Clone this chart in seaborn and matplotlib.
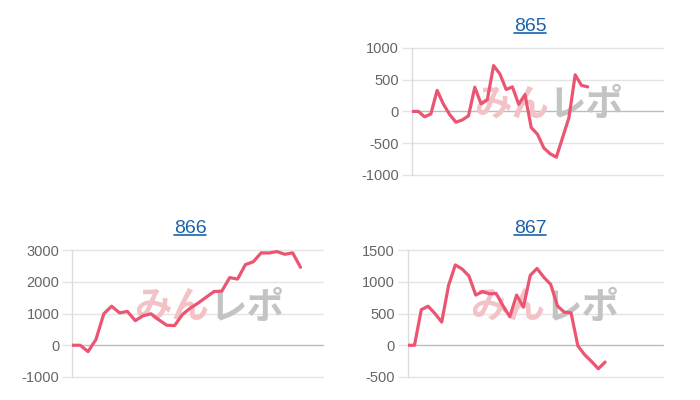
import numpy as np
import pandas as pd
import matplotlib
matplotlib.use("Agg")
import matplotlib.pyplot as plt
import seaborn as sns
from matplotlib.lines import Line2D

# Slot graph data (difference per game)
diff_865 = [0, 0, -85, -40, 330, 115, -50, -170, -135, -70, 380, 120, 185, 720, 590,
            345, 385, 110, 265, -255, -360, -575, -665, -720, -410, -100, 575, 410, 385]
diff_866 = [0, 0, -200, 180, 990, 1230, 1020, 1065, 775, 930, 990, 800, 630, 620, 970,
            1170, 1330, 1510, 1690, 1705, 2130, 2085, 2540, 2630, 2910, 2905, 2950, 2865, 2910, 2455]
diff_867 = [0, 0, 560, 615, 500, 365, 940, 1265, 1200, 1090, 790, 846, 810, 815, 622,
            450, 790, 600, 1100, 1210, 1070, 960, 620, 520, 510, -10, -150, -255, -370, -265]

titles = ["865", "866", "867"]

# length of the x axis (number of slots) for each chart
slots_865 = 40
slots_866 = 31.9
slots_867 = 37.5

yticks_865 = [-1000, -500, 0, 500, 1000]
yticks_866 = [-1000, 0, 1000, 2000, 3000]
yticks_867 = [-500, 0, 500, 1000, 1500]

LINE = "#eb5572"
GRID = "#e4e4e4"
ZERO = "#bcbcbc"
TICK_TXT = "#666666"
LINK = "#1a63a8"

sns.set_style("white")
plt.rcParams["font.family"] = ["Liberation Sans", "Noto Sans CJK JP", "DejaVu Sans"]

fig = plt.figure(figsize=(7, 4), dpi=100)


def draw_panel(rect, title, title_x, values, slots, yticks):
    ax = fig.add_axes(rect)
    df = pd.DataFrame({"game": np.arange(len(values)), "diff": values})

    # grid lines (chart.js style, zero line darker)
    for y in yticks:
        ax.axhline(y, color=ZERO if y == 0 else GRID, lw=1, zorder=1, clip_on=False)

    # watermark logo
    for txt, col, ha in [("みん", "#f2c2c6", "right"), ("レポ", "#c3c3c3", "left")]:
        ax.annotate(txt, xy=(0, 1), xycoords="axes fraction", xytext=(137, -57),
                    textcoords="offset pixels", ha=ha, va="center", fontsize=27,
                    fontweight="bold", style="italic", color=col,
                    family=["Noto Sans CJK JP"], zorder=2)

    sns.lineplot(data=df, x="game", y="diff", color=LINE, linewidth=2.3, ax=ax, zorder=3)

    ax.set_xlim(0, slots)
    ax.set_ylim(yticks[0], yticks[-1])
    ax.set_yticks(yticks)
    ax.set_yticklabels([str(v) for v in yticks])
    ax.set_xticks([])
    ax.set_xlabel("")
    ax.set_ylabel("")
    ax.tick_params(axis="y", length=7.2, width=1, color=GRID, pad=2.2,
                   labelsize=10.5, labelcolor=TICK_TXT, left=True)
    for side in ["top", "right", "bottom"]:
        ax.spines[side].set_visible(False)
    ax.spines["left"].set_color("#dcdcdc")
    ax.spines["left"].set_linewidth(1)
    t = ax.set_title(title, color=LINK, fontsize=14, pad=12, x=title_x)
    return ax, t


panels = [
    draw_panel([0.5886, 0.5625, 0.3586, 0.318], titles[0], 0.470, diff_865, slots_865, yticks_865),
    draw_panel([0.1033, 0.0575, 0.3586, 0.3175], titles[1], 0.469, diff_866, slots_866, yticks_866),
    draw_panel([0.5824, 0.0575, 0.3647, 0.3175], titles[2], 0.479, diff_867, slots_867, yticks_867),
]

# underline the titles like links
fig.canvas.draw()
for ax, t in panels:
    r = t.get_window_extent()
    y = r.y0 + 2
    fig.add_artist(Line2D([r.x0, r.x1], [y, y], transform=None, color=LINK, lw=1.2))

fig.savefig("out.png", dpi=100)
